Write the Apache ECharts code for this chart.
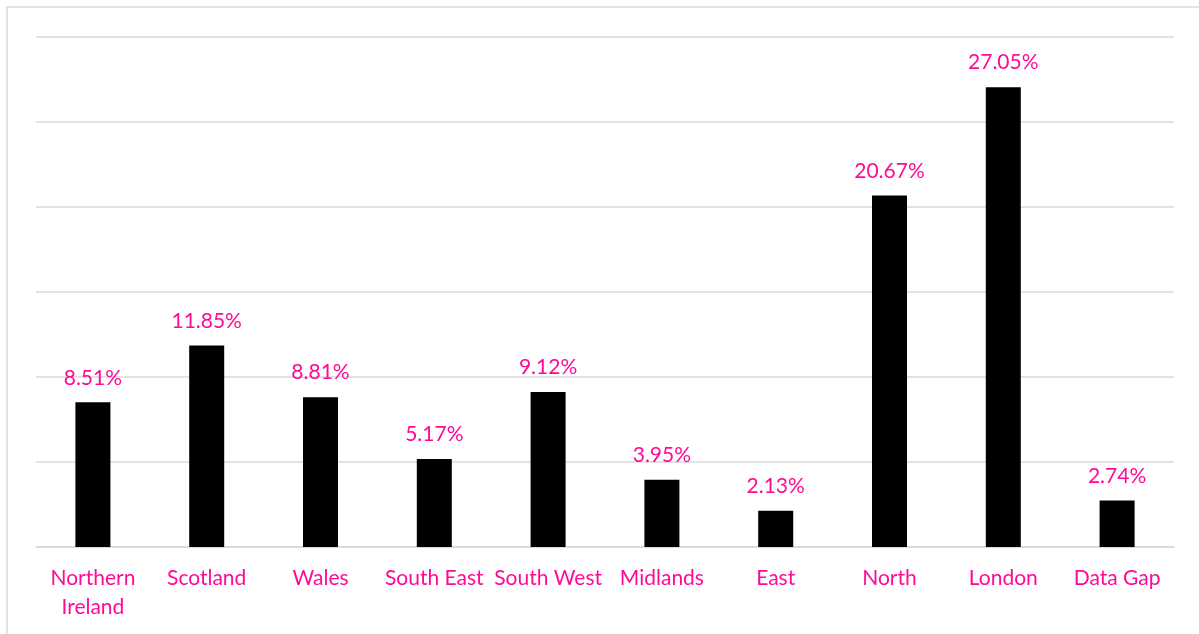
<!DOCTYPE html>
<html>
<head>
<meta charset="utf-8">
<script src="https://cdn.jsdelivr.net/npm/echarts@6/dist/echarts.min.js"></script>
<style>
  html, body { margin: 0; padding: 0; background: #fff; }
  #main { width: 1199px; height: 634px; }
</style>
</head>
<body>
<div id="main"></div>
<script>
var regions = ['Northern Ireland', 'Scotland', 'Wales', 'South East', 'South West', 'Midlands', 'East', 'North', 'London', 'Data Gap'];
var shares = [8.51, 11.85, 8.81, 5.17, 9.12, 3.95, 2.13, 20.67, 27.05, 2.74];

var pink = '#ff0a97';
var chart = echarts.init(document.getElementById('main'));

var option = {
  animation: false,
  textStyle: { fontFamily: 'Lato, "Open Sans", sans-serif' },
  graphic: [{
    type: 'rect',
    shape: { x: 7, y: 7, width: 1300, height: 700 },
    style: { fill: 'none', stroke: '#d9d9d9', lineWidth: 1.5 },
    silent: true
  }],
  grid: { left: 36, right: 25, top: 37, bottom: 87 },
  xAxis: {
    type: 'category',
    data: regions,
    axisLine: { lineStyle: { color: '#d9d9d9', width: 1.5 } },
    axisTick: { show: false },
    axisLabel: {
      color: pink,
      fontSize: 21,
      margin: 17,
      lineHeight: 29,
      interval: 0,
      formatter: function (v) { return v === 'Northern Ireland' ? 'Northern\nIreland' : v; }
    }
  },
  yAxis: {
    type: 'value',
    min: 0,
    max: 30,
    interval: 5,
    axisLabel: { show: false },
    axisLine: { show: false },
    axisTick: { show: false },
    splitLine: { lineStyle: { color: '#d9d9d9', width: 1.5 } }
  },
  series: [{
    type: 'bar',
    data: shares,
    barWidth: 35,
    itemStyle: { color: '#000' },
    label: {
      show: true,
      position: 'top',
      distance: 14,
      color: pink,
      fontSize: 21,
      formatter: function (p) { return p.value.toFixed(2) + '%'; }
    }
  }]
};

chart.setOption(option);
</script>
</body>
</html>
